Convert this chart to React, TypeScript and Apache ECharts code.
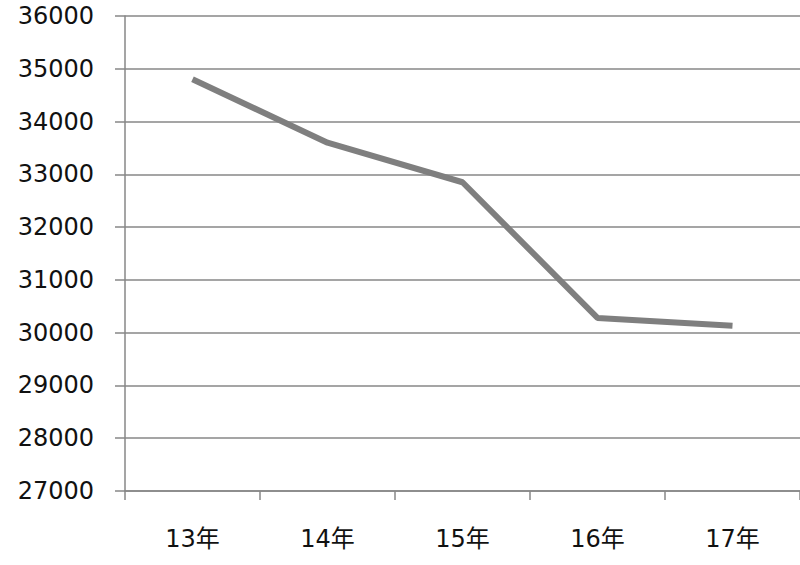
import React, { useRef, useEffect } from 'react';
import * as echarts from 'echarts';

const years = ['13年', '14年', '15年', '16年', '17年'];
const values = [34800, 33600, 32850, 30280, 30130];
const yMin = 27000;
const yMax = 36000;
const yStep = 1000;

const App: React.FC = () => {
  const chartRef = useRef<HTMLDivElement>(null);

  useEffect(() => {
    if (!chartRef.current) return;
    const chart = echarts.init(chartRef.current, undefined, { renderer: 'svg' });

    const gray = '#878787';
    const font = '"DejaVu Sans", "Noto Sans CJK JP", sans-serif';

    chart.setOption({
      animation: false,
      backgroundColor: '#ffffff',
      grid: { left: 125, right: -3, top: 16, bottom: 74 },
      xAxis: {
        type: 'category',
        data: years,
        boundaryGap: true,
        axisLine: { lineStyle: { color: gray, width: 1.5 } },
        axisTick: { show: true, length: 9, lineStyle: { color: gray, width: 1.5 } },
        axisLabel: { color: '#111', fontSize: 24, fontFamily: font, margin: 36 },
      },
      yAxis: {
        type: 'value',
        min: yMin,
        max: yMax,
        interval: yStep,
        axisLine: { show: true, lineStyle: { color: gray, width: 1.5 } },
        axisTick: { show: true, length: 10, lineStyle: { color: gray, width: 1.5 } },
        splitLine: { lineStyle: { color: gray, width: 1.5 } },
        axisLabel: {
          color: '#111',
          fontSize: 24,
          fontFamily: font,
          margin: 31,
          formatter: (v: number) => String(v),
        },
      },
      series: [
        {
          type: 'line',
          data: values,
          symbol: 'none',
          lineStyle: { color: '#7f7f7f', width: 6 },
        },
      ],
    });

    return () => {
      chart.dispose();
    };
  }, []);

  return (
    <div
      ref={chartRef}
      style={{ position: 'absolute', left: 0, top: 0, width: 800, height: 565 }}
    />
  );
};

export default App;
